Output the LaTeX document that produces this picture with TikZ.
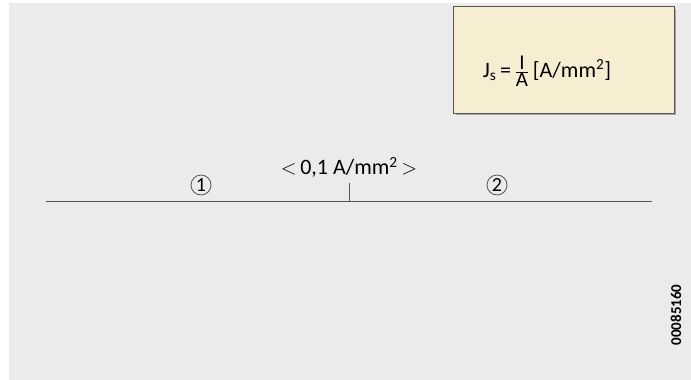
\documentclass[tikz,border=0pt]{standalone}
\usepackage{fontspec}
\setmainfont{Carlito}
\usetikzlibrary{positioning}
\definecolor{panelgray}{HTML}{EBEBEB}
\definecolor{boxyellow}{HTML}{F7EDD0}
\definecolor{linegray}{HTML}{555555}
\newcommand{\bigfont}{\fontsize{22}{22}\selectfont}
\newcommand{\fracfont}{\fontsize{21}{21}\selectfont}
\tikzset{
  circnum/.style={circle,draw=linegray,thick,inner sep=0pt,minimum size=20pt,font=\fontsize{20}{20}\selectfont},
  formulabox/.style={draw=linegray,fill=boxyellow,minimum width=221pt,minimum height=107pt,inner sep=0pt}
}
\begin{document}
\begin{tikzpicture}[x=1pt,y=-1pt]
  \useasboundingbox (0,0) rectangle (691,380);
  \fill[panelgray] (9,3) rectangle (691,380);
  % formula box with shadow
  \fill[gray!70] (456,9) rectangle (676,115);
  \node[formulabox,anchor=north west] (formula) at (453,6) {};
  \node[font=\bigfont] (formtext) at (547,71)
    {J\textsubscript{s}\,=\,$\frac{\hbox{\fracfont I}}{\hbox{\fracfont A}}$\,[A/mm\textsuperscript{2}]};
  % conductor line
  \coordinate (left) at (46,201);
  \coordinate (right) at (652,201);
  \coordinate (mid) at (349,201);
  \coordinate (midtop) at (349,183);
  \draw[linegray,thick] (left) -- (right);
  \draw[linegray] (mid) -- (midtop);
  \node[font=\bigfont,above=2pt of midtop] (limit) {$<$\,0,1 A/mm\textsuperscript{2}\,$>$};
  \node[circnum] (one) at (201,185) {1};
  \node[circnum] (two) at (497,185) {2};
  \node[rotate=90,font=\fontsize{15}{15}\selectfont\bfseries] (code) at (676,315) {00085160};
\end{tikzpicture}
\end{document}
